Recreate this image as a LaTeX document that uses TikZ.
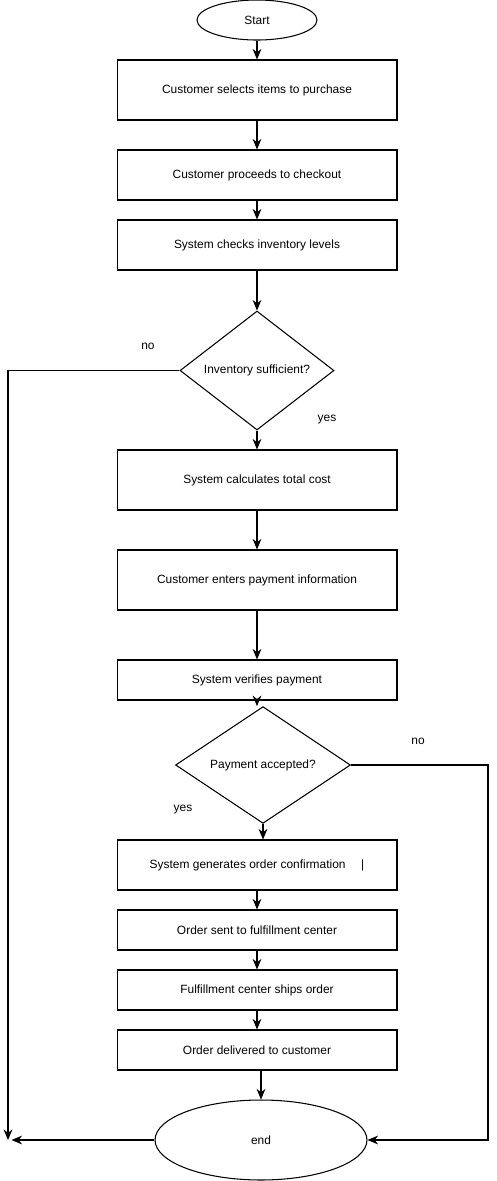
\documentclass[tikz,border=0pt]{standalone}
\usepackage{fontspec}
\setmainfont{Liberation Sans}
\usetikzlibrary{shapes.geometric,arrows.meta}

\begin{document}
\begin{tikzpicture}[x=0.02cm,y=-0.02cm,
  line width=0.6pt,
  every node/.style={font=\fontsize{6.8}{8}\selectfont},
  stepbox/.style={draw,rectangle,minimum width=5.6cm,inner sep=0pt},
  terminal/.style={draw,ellipse,inner sep=0pt},
  decision/.style={draw,diamond,inner sep=0pt},
  arr/.style={-{Stealth[length=6pt,width=5pt]}}]

\useasboundingbox (0,0) rectangle (497,1181);

\node[terminal,minimum width=2.4cm,minimum height=0.8cm] (start) at (257,20) {Start};

\node[stepbox,minimum height=1.2cm] (select) at (257,90) {Customer selects items to purchase};
\node[stepbox,minimum height=1.0cm] (checkout) at (257,175) {Customer proceeds to checkout};
\node[stepbox,minimum height=1.0cm] (inventory) at (257,245) {System checks inventory levels};

\node[decision,minimum width=3.08cm,minimum height=2.38cm] (enough) at (257,370.5) {Inventory sufficient?};

\node[stepbox,minimum height=1.2cm] (total) at (257,480) {System calculates total cost};
\node[stepbox,minimum height=1.2cm] (payinfo) at (257,580) {Customer enters payment information};
\node[stepbox,minimum height=0.8cm] (verify) at (257,680) {System verifies payment};

\node[decision,minimum width=3.5cm,minimum height=2.2cm] (accepted) at (263,765) {Payment accepted?};

\node[stepbox,minimum height=1.0cm] (confirm) at (257,865) {System generates order confirmation\hspace{1.3em}|};
\node[stepbox,minimum height=0.8cm] (sent) at (257,930) {Order sent to fulfillment center};
\node[stepbox,minimum height=0.8cm] (ships) at (257,990) {Fulfillment center ships order};
\node[stepbox,minimum height=0.8cm] (delivered) at (257,1050) {Order delivered to customer};

\node[terminal,minimum width=4.24cm,minimum height=1.6cm] (end) at (261,1140) {end};

% branch labels
\node (noleft) at (148,346) {no};
\node (yesleft) at (327,420) {yes};
\node (noright) at (418,741) {no};
\node (yesright) at (183,810) {yes};

\coordinate (leftcorner) at (8,370.5);
\coordinate (leftend) at (8,1140);
\coordinate (rightcorner) at (488,765);

% main flow
\draw[arr] (start) -- (select);
\draw[arr] (select) -- (checkout);
\draw[arr] (checkout) -- (inventory);
\draw[arr] (inventory) -- (enough);
\draw[arr] (enough) -- (total);
\draw[arr] (total) -- (payinfo);
\draw[arr] (payinfo) -- (verify);
\draw[arr] (verify.south) -- (verify.south |- accepted.north);
\draw[arr] (accepted.south) -- (accepted.south |- confirm.north);
\draw[arr] (confirm) -- (sent);
\draw[arr] (sent) -- (ships);
\draw[arr] (ships) -- (delivered);
\draw[arr] (end.north |- delivered.south) -- (end.north);

% the two "no" branches
\draw[arr] (enough.west) -- (leftcorner) -- (leftend);
\draw[arr] (end.west) -- ([xshift=2]leftend);
\draw[arr] (accepted.east) -- (rightcorner) |- (end.east);

\end{tikzpicture}
\end{document}
